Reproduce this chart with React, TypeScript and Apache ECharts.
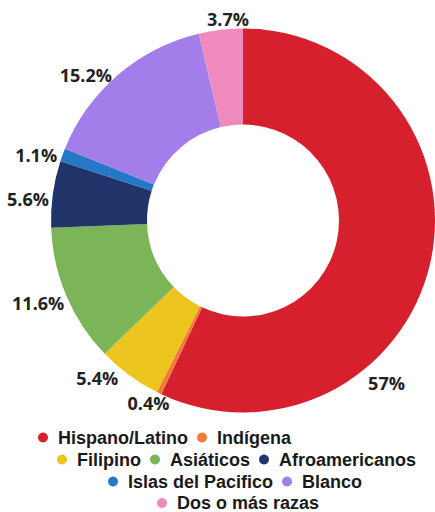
import React, { useEffect, useRef } from "react";
import * as echarts from "echarts";

const categories = [
  "Hispano/Latino",
  "Indígena",
  "Filipino",
  "Asiáticos",
  "Afroamericanos",
  "Islas del Pacifico",
  "Blanco",
  "Dos o más razas",
];
const values = [57, 0.4, 5.4, 11.6, 5.6, 1.1, 15.2, 3.7];
const colors = [
  "#D6202D",
  "#F47B36",
  "#EDC51F",
  "#7CB557",
  "#21346A",
  "#2478C5",
  "#A37EEA",
  "#F089BE",
];
const legendRows = [
  ["Hispano/Latino", "Indígena"],
  ["Filipino", "Asiáticos", "Afroamericanos"],
  ["Islas del Pacifico", "Blanco"],
  ["Dos o más razas"],
];

// layout
const CX = 243;
const CY = 220.5;
const R_OUT = 192;
const R_IN = 96;
const GAP = 3;
const LABEL_ANGLE_NUDGE = [36, 1.5, 6.5, 1, -2.2, -2.4, -6.5, 2.4];
const LABEL_RADIUS_NUDGE = [10, 0, 7, 2, 0, 0, 6, -2];
const LEGEND_LEFT = [38, 57, 108, 157];
const LEGEND_TOP = [428.5, 450.5, 472.5, 494];

export default function App() {
  const ref = useRef<HTMLDivElement>(null);
  useEffect(() => {
    if (!ref.current) return;
    const chart = echarts.init(ref.current, undefined, { renderer: "svg" });
    const total = values.reduce((a, b) => a + b, 0);
    const legendText = {
      fontFamily: "Liberation Sans",
      fontWeight: "bold" as const,
      fontSize: 18,
      lineHeight: 18,
      color: "#1a1a1a",
    };
    chart.setOption({
      animation: false,
      backgroundColor: "#ffffff",
      legend: legendRows.map((row, k) => ({
        data: row,
        left: LEGEND_LEFT[k],
        top: LEGEND_TOP[k],
        padding: 0,
        orient: "horizontal",
        icon: "circle",
        itemWidth: 20,
        itemHeight: 10,
        itemGap: 9,
        selectedMode: false,
        textStyle: legendText,
      })),
      series: [
        {
          type: "pie",
          center: [CX, CY],
          radius: [R_IN, R_OUT],
          startAngle: 90,
          clockwise: true,
          avoidLabelOverlap: false,
          itemStyle: { borderWidth: 0 },
          label: {
            show: true,
            position: "outside",
            formatter: (p: any) => `${p.value}%`,
            fontFamily: "Open Sans",
            fontWeight: "bold",
            fontSize: 18,
            lineHeight: 18,
            color: "#222222",
          },
          labelLine: { show: false },
          emphasis: { disabled: true },
          labelLayout: (p: any) => {
            const i = p.dataIndex;
            let cum = 0;
            for (let j = 0; j < i; j++) cum += values[j];
            const deg = ((cum + values[i] / 2) / total) * 360 + LABEL_ANGLE_NUDGE[i];
            const a = (deg * Math.PI) / 180;
            const dx = Math.sin(a);
            const dy = -Math.cos(a);
            const w = p.labelRect.width;
            const h = p.labelRect.height;
            const ex = Math.abs(dx) > 1e-6 ? w / 2 / Math.abs(dx) : Infinity;
            const ey = Math.abs(dy) > 1e-6 ? h / 2 / Math.abs(dy) : Infinity;
            const r = R_OUT + GAP + LABEL_RADIUS_NUDGE[i] + Math.min(ex, ey);
            return {
              x: CX + r * dx,
              y: CY + r * dy,
              align: "center",
              verticalAlign: "middle",
            };
          },
          data: categories.map((name, i) => ({
            name,
            value: values[i],
            itemStyle: { color: colors[i] },
          })),
        },
      ],
    });
    return () => chart.dispose();
  }, []);
  return (
    <div
      ref={ref}
      style={{ position: "absolute", left: 0, top: 0, width: 435, height: 512 }}
    />
  );
}
